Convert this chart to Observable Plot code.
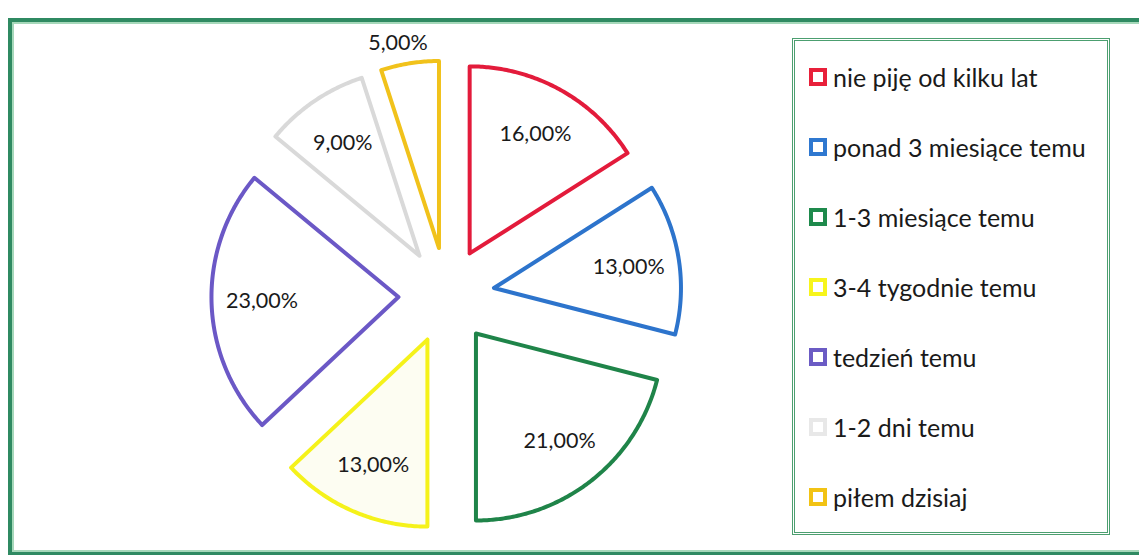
<!DOCTYPE html>
<html>
<head>
<meta charset="utf-8">
<script src="https://cdn.jsdelivr.net/npm/d3@7"></script>
<script src="https://cdn.jsdelivr.net/npm/@observablehq/plot@0.6"></script>
<style>
  html, body { margin: 0; padding: 0; background: #ffffff; }
  #wrap { position: relative; width: 1139px; height: 555px; overflow: hidden; font-family: Lato, "Open Sans", sans-serif; }
  #chart { position: absolute; left: 0; top: 0; width: 780px; height: 555px; }
  #frame { position: absolute; left: 8px; top: 18px; width: 1160px; height: 530px;
           border: 4px solid #2f8a62; box-shadow: inset 0 0 0 2px #a6d8ba; pointer-events: none; }
  #legend { position: absolute; left: 792px; top: 38px; width: 312px; height: 491px;
            border: 3px double #4c9f70; background: #fff; }
  .item { position: absolute; left: 14px; display: flex; align-items: center; height: 30px;
          font-size: 25px; color: #1a1a1a; white-space: nowrap; }
  .sw { width: 10px; height: 10px; border: 4px solid; margin-right: 6px; background: #fff; }
</style>
</head>
<body>
<div id="wrap">
  <div id="chart"></div>
  <div id="legend"></div>
  <div id="frame"></div>
</div>
<script>
const categories = ["nie piję od kilku lat", "ponad 3 miesiące temu", "1-3 miesiące temu", "3-4 tygodnie temu", "tedzień temu", "1-2 dni temu", "piłem dzisiaj"];
const shares = [16, 13, 21, 13, 23, 9, 5];
const colors = ["#e31b3b", "#2d74cc", "#1f8449", "#f5f21a", "#6b58c6", "#d9d9d9", "#f1c21b"];
const fills = ["#ffffff", "#ffffff", "#ffffff", "#fdfdf2", "#ffffff", "#ffffff", "#ffffff"];
const legendColors = ["#e8203a", "#2f78d0", "#1e8a4c", "#f7f51c", "#6b5bc4", "#e8e8e8", "#f2c314"];

const fmt = v => v.toFixed(2).replace(".", ",") + "%";
const explode = 0.257;

const arcs = d3.pie().sort(null).value(d => d)(shares);

const outline = [];
const labelsData = [];
arcs.forEach((a, i) => {
  const mid = (a.startAngle + a.endAngle) / 2;
  const ox = explode * Math.sin(mid), oy = explode * Math.cos(mid);
  const cat = categories[i];
  outline.push({cat, fillc: fills[i], x: ox, y: oy});
  const n = Math.max(2, Math.ceil((a.endAngle - a.startAngle) / 0.01));
  for (let k = 0; k <= n; k++) {
    const t = a.startAngle + (a.endAngle - a.startAngle) * k / n;
    outline.push({cat, fillc: fills[i], x: ox + Math.sin(t), y: oy + Math.cos(t)});
  }
  outline.push({cat, fillc: fills[i], x: ox, y: oy});
  const small = shares[i] < 6;
  const lr = small ? 1.12 : 0.73;
  const la = small ? mid - 0.04 : mid;
  labelsData.push({cat, label: fmt(shares[i]), x: ox + lr * Math.sin(la), y: oy + lr * Math.cos(la)});
});

const cx = 446, cy = 295, R = 187;
const plot = Plot.plot({
  width: 780,
  height: 555,
  margin: 0,
  style: {background: "none", overflow: "visible"},
  x: {domain: [-1, 1], range: [cx - R, cx + R], axis: null},
  y: {domain: [-1, 1], range: [cy + R, cy - R], axis: null},
  color: {domain: categories, range: colors},
  marks: [
    Plot.line(outline, {x: "x", y: "y", z: "cat", stroke: "cat", fill: d => d.fillc, strokeWidth: 4, strokeLinejoin: "round", curve: "linear"}),
    Plot.text(labelsData, {x: "x", y: "y", text: "label", fontSize: 21.5, fill: "#1a1a1a", fontFamily: "Lato, 'Open Sans', sans-serif"})
  ]
});
document.getElementById("chart").appendChild(plot);

const legend = document.getElementById("legend");
categories.forEach((c, i) => {
  const item = document.createElement("div");
  item.className = "item";
  item.style.top = (21 + i * 70) + "px";
  const sw = document.createElement("span");
  sw.className = "sw";
  sw.style.borderColor = legendColors[i];
  const tx = document.createElement("span");
  tx.textContent = c;
  item.appendChild(sw);
  item.appendChild(tx);
  legend.appendChild(item);
});
</script>
</body>
</html>
